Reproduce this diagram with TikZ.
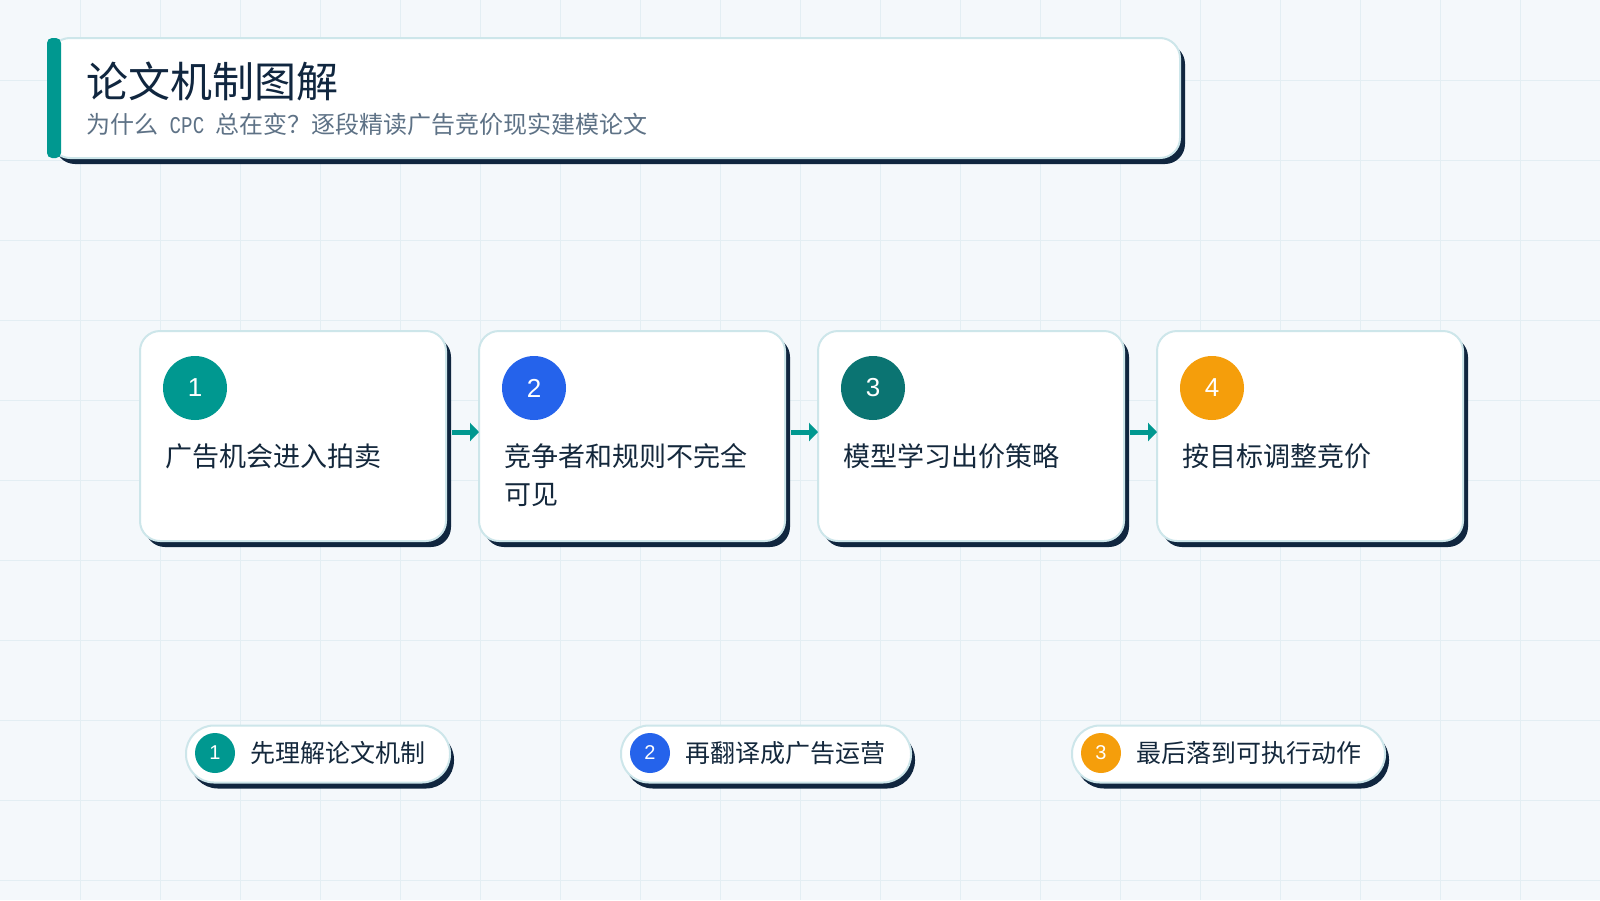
\documentclass[tikz,border=0pt]{standalone}
\usepackage{fontspec}
\setmainfont{Noto Sans CJK SC}
\newfontfamily\numfont{Liberation Sans}
\newfontfamily\latmono[FakeStretch=0.8]{Liberation Mono}
\usetikzlibrary{arrows.meta,shadows}
\definecolor{bg}{HTML}{F4F8FB}
\definecolor{gridc}{HTML}{E3EEF3}
\definecolor{navy}{HTML}{10263F}
\definecolor{bord}{HTML}{CDE6EA}
\definecolor{tealc}{HTML}{009890}
\definecolor{bluec}{HTML}{2563EB}
\definecolor{dtealc}{HTML}{0B7472}
\definecolor{amberc}{HTML}{F59E0B}
\definecolor{subc}{HTML}{5E7286}
\definecolor{ink}{HTML}{14283C}
\tikzset{
  card/.style={draw=bord, line width=2pt, fill=white, rounded corners=20pt, inner sep=0pt, outer sep=0pt,
    general shadow={fill=navy, shadow xshift=5pt, shadow yshift=-6pt}},
  stepcard/.style={card, minimum width=306pt, minimum height=210pt},
  pill/.style={draw=bord, line width=2pt, fill=white, rounded corners=28pt, inner sep=0pt, outer sep=0pt,
    minimum height=57pt, general shadow={fill=navy, shadow xshift=4pt, shadow yshift=-6pt}},
  stepnum/.style={circle, inner sep=0pt, minimum size=64pt, text=white, font=\numfont\fontsize{26}{26}\selectfont},
  pillnum/.style={circle, inner sep=0pt, minimum size=40pt, text=white, font=\numfont\fontsize{20}{20}\selectfont},
  steptext/.style={anchor=base west, inner sep=0pt, text=ink, font=\fontsize{27}{27}\selectfont},
  pilltext/.style={anchor=base west, inner sep=0pt, text=ink, font=\fontsize{25}{25}\selectfont},
  flow/.style={draw=tealc, line width=5pt, -{Triangle[length=9pt,width=18pt]}},
}
\begin{document}
\begin{tikzpicture}[x=1pt,y=-1pt]
\useasboundingbox (0,0) rectangle (1600,900);
\fill[bg] (0,0) rectangle (1600,900);
\foreach \i in {80,160,...,1580} \draw[gridc, line width=1pt] (\i,0) -- (\i,900);
\foreach \j in {80,160,...,880} \draw[gridc, line width=1pt] (0,\j) -- (1600,\j);

% title card
\node[card, minimum width=1130pt, minimum height=120pt] (title) at (615,98) {};
\fill[tealc, rounded corners=5pt] (47,38) rectangle (61,158);
\node[anchor=base west, inner sep=0pt, text=navy, font=\fontsize{42}{42}\selectfont] (ttl) at (86,97) {论文机制图解};
\node[anchor=base west, inner sep=0pt, text=subc, font=\fontsize{24}{24}\selectfont] (subt) at (86,133) {为什么{\latmono\fontsize{24}{24}\selectfont{} CPC }总在变？逐段精读广告竞价现实建模论文};

% step cards
\node[stepcard] (c1) at (293,436) {};
\node[stepcard] (c2) at (632,436) {};
\node[stepcard] (c3) at (971,436) {};
\node[stepcard] (c4) at (1310,436) {};

\node[stepnum, fill=tealc] (n1) at (195,388) {1};
\node[stepnum, fill=bluec] (n2) at (534,388) {2};
\node[stepnum, fill=dtealc] (n3) at (873,388) {3};
\node[stepnum, fill=amberc] (n4) at (1212,388) {4};

\node[steptext] (t1) at (165,466) {广告机会进入拍卖};
\node[steptext] (t2) at (504,466) {竞争者和规则不完全};
\node[steptext] (t2b) at (504,504) {可见};
\node[steptext] (t3) at (843,466) {模型学习出价策略};
\node[steptext] (t4) at (1182,466) {按目标调整竞价};

\draw[flow] ([xshift=6pt,yshift=4pt]c1.east) -- ([yshift=4pt]c2.west);
\draw[flow] ([xshift=6pt,yshift=4pt]c2.east) -- ([yshift=4pt]c3.west);
\draw[flow] ([xshift=6pt,yshift=4pt]c3.east) -- ([yshift=4pt]c4.west);

% pills
\node[pill, minimum width=264pt] (p1) at (318,754) {};
\node[pill, minimum width=290pt] (p2) at (766,754) {};
\node[pill, minimum width=313pt] (p3) at (1228.5,754) {};

\node[pillnum, fill=tealc] (q1) at (215,753) {1};
\node[pillnum, fill=bluec] (q2) at (650,753) {2};
\node[pillnum, fill=amberc] (q3) at (1101,753) {3};

\node[pilltext] (r1) at (250,762) {先理解论文机制};
\node[pilltext] (r2) at (685,762) {再翻译成广告运营};
\node[pilltext] (r3) at (1136,762) {最后落到可执行动作};
\end{tikzpicture}
\end{document}
